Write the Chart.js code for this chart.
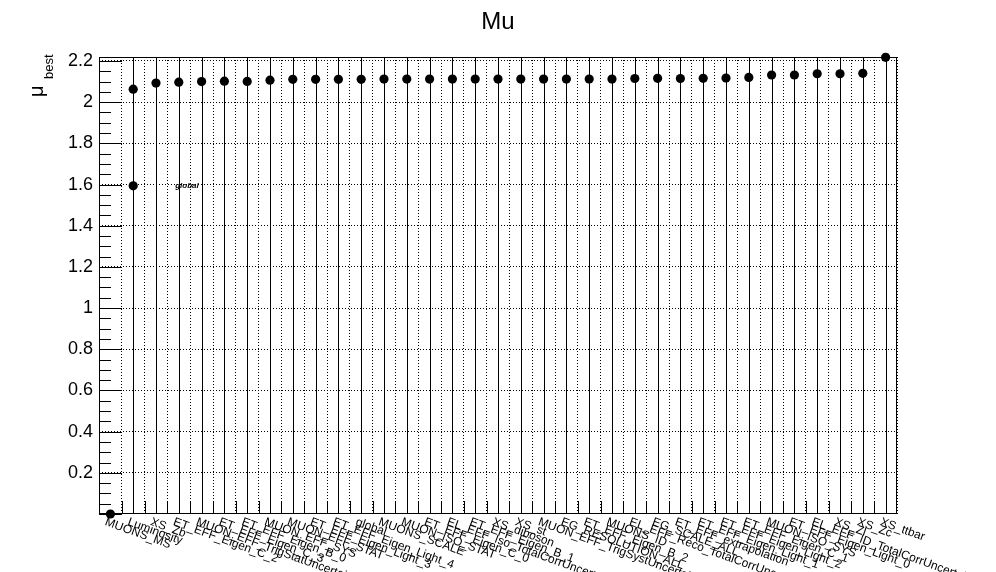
<!DOCTYPE html>
<html><head><meta charset="utf-8">
<script src="https://cdn.jsdelivr.net/npm/chart.js@4.4.1/dist/chart.umd.min.js"></script>
<style>html,body{margin:0;padding:0;background:#fff;}</style>
</head><body>
<canvas id="c" width="996" height="572"></canvas>
<script>
// ---- data ----
const categories = [
  'MUONS_MS','Luminosity','XS_Zb','ET_EFF_Eigen_C_2','MUON_EFF_TrigStatUncertainty',
  'ET_EFF_Eigen_C_3','ET_EFF_Eigen_B_0','MUON_EFF_SYS','MUON_EFF_STAT','ET_EFF_Eigen_Light_3',
  'ET_EFF_Eigen_Light_4','global','MUONS_SCALE','MUON_ISO_STAT','ET_EFF_Eigen_C_0',
  'EL_EFF_Iso_TotalCorrUncertainty','ET_EFF_Eigen_B_1','XS_diboson','XS_st','MUON_EFF_TrigSystUncertainty',
  'EG_RESOLUTION_ALL','ET_EFF_Eigen_B_2','MUONS_ID','EL_EFF_Reco_TotalCorrUncertainty','EG_SCALE_ALL',
  'ET_EFF_extrapolation','ET_EFF_Eigen_Light_1','ET_EFF_Eigen_Light_2','ET_EFF_Eigen_C_1','MUON_ISO_SYS',
  'ET_EFF_Eigen_Light_0','EL_EFF_ID_TotalCorrUncertainty','XS_Zl','XS_Zc','XS_ttbar'
];
const muBest = [
  0.000, 2.063, 2.093, 2.097, 2.100,
  2.102, 2.101, 2.107, 2.111, 2.111,
  2.111, 2.111, 2.112, 2.112, 2.112,
  2.112, 2.112, 2.112, 2.112, 2.112,
  2.112, 2.112, 2.112, 2.115, 2.116,
  2.115, 2.116, 2.117, 2.120, 2.132,
  2.132, 2.138, 2.138, 2.140, 2.218
];
const muErr = [
  0.0, 2.5, 2.5, 2.5, 2.5,
  2.5, 2.5, 2.5, 2.5, 2.5,
  2.5, 2.5, 2.5, 2.5, 2.5,
  2.5, 2.5, 2.5, 2.5, 2.5,
  2.5, 2.5, 2.5, 2.5, 2.5,
  2.5, 2.5, 2.5, 2.5, 2.5,
  2.5, 2.5, 2.5, 2.5, 2.5
];
const globalIndex = 1;
const globalMu = 1.594;
const globalLabel = 'global';
const yTicks = [0.2, 0.4, 0.6, 0.8, 1.0, 1.2, 1.4, 1.6, 1.8, 2.0, 2.2];
const yTickLabels = ['0.2','0.4','0.6','0.8','1','1.2','1.4','1.6','1.8','2','2.2'];
const titleText = 'Mu';

const FONT = "'Liberation Sans', Arial, Helvetica, sans-serif";

const rootPlugin = {
  id: 'rootStyle',
  beforeDatasetsDraw(chart) {
    const {ctx, chartArea: a, scales: {x, y}} = chart;
    ctx.save();
    ctx.beginPath();
    ctx.rect(a.left, a.top, a.right - a.left, a.bottom - a.top);
    ctx.clip();
    ctx.strokeStyle = '#000';
    ctx.lineWidth = 1;
    muBest.forEach((v, i) => {
      if (!muErr[i]) return;
      const px = Math.round(x.getPixelForValue(i)) + 0.5;
      ctx.beginPath();
      ctx.moveTo(px, y.getPixelForValue(v - muErr[i]));
      ctx.lineTo(px, y.getPixelForValue(v + muErr[i]));
      ctx.stroke();
    });
    ctx.restore();
  },
  afterDraw(chart) {
    const {ctx, chartArea: a, scales: {x, y}} = chart;
    ctx.save();
    ctx.strokeStyle = '#000';
    ctx.fillStyle = '#000';
    ctx.lineWidth = 1;
    // frame
    ctx.strokeRect(a.left + 0.5, a.top + 0.5, a.right - a.left - 1, a.bottom - a.top - 1);
    // y ticks (major + minor), inside
    ctx.beginPath();
    for (let k = 0; k <= 44; k++) {
      const v = k * 0.05;
      const py = Math.round(y.getPixelForValue(v)) + 0.5;
      const len = (k % 4 === 0) ? 23 : 12;
      ctx.moveTo(a.left, py);
      ctx.lineTo(a.left + len, py);
    }
    // x ticks at bin boundaries
    for (let i = 1; i < categories.length; i++) {
      const px = Math.round(x.getPixelForValue(i - 0.5)) + 0.5;
      ctx.moveTo(px, a.bottom);
      ctx.lineTo(px, a.bottom - 13);
    }
    ctx.stroke();
    // x labels rotated
    ctx.font = '12px ' + FONT;
    ctx.textAlign = 'left';
    ctx.textBaseline = 'top';
    categories.forEach((lab, i) => {
      const px = x.getPixelForValue(i);
      ctx.save();
      ctx.translate(px - 3, a.bottom + 2);
      ctx.rotate(20 * Math.PI / 180);
      ctx.fillText(lab, 0, 0);
      ctx.restore();
    });
    // global annotation
    ctx.font = 'italic bold 8px ' + FONT;
    ctx.textBaseline = 'middle';
    ctx.fillText(globalLabel, x.getPixelForValue(globalIndex) + 42, y.getPixelForValue(globalMu));
    // title
    ctx.font = '24px ' + FONT;
    ctx.textAlign = 'center';
    ctx.textBaseline = 'middle';
    ctx.fillText(titleText, 498, 22);
    // y axis title mu_best
    ctx.save();
    ctx.translate(43, 97);
    ctx.rotate(-Math.PI / 2);
    ctx.textAlign = 'left';
    ctx.textBaseline = 'alphabetic';
    ctx.font = '20px ' + FONT;
    ctx.fillText('\u03BC', 0, 0);
    ctx.font = '13px ' + FONT;
    ctx.fillText('best', 18, 9.5);
    ctx.restore();
    ctx.restore();
  }
};

new Chart(document.getElementById('c'), {
  type: 'line',
  data: {
    labels: categories,
    datasets: [
      {
        data: muBest,
        showLine: false,
        pointRadius: 4.6,
        pointHoverRadius: 4.6,
        pointBackgroundColor: '#000',
        pointBorderColor: '#000',
        pointBorderWidth: 0,
        clip: false
      },
      {
        data: categories.map((c, i) => i === globalIndex ? globalMu : null),
        showLine: false,
        pointRadius: 4.6,
        pointBackgroundColor: '#000',
        pointBorderColor: '#000',
        pointBorderWidth: 0,
        clip: false
      }
    ]
  },
  options: {
    responsive: false,
    animation: false,
    devicePixelRatio: 1,
    layout: { padding: { top: 57, right: 99, left: 0, bottom: 0 }, autoPadding: false },
    plugins: { legend: { display: false }, title: { display: false }, tooltip: { enabled: false } },
    scales: {
      x: {
        type: 'category',
        offset: true,
        grid: { offset: true, color: '#000', lineWidth: 1, drawTicks: false },
        border: { display: false, dash: [1, 2] },
        ticks: { display: false },
        afterFit(s) { s.height = 58; }
      },
      y: {
        min: 0,
        max: 2.2194,
        afterBuildTicks(s) { s.ticks = yTicks.map(v => ({ value: v })); },
        grid: { color: '#000', lineWidth: 1, drawTicks: false },
        border: { display: false, dash: [1, 2] },
        ticks: {
          color: '#000',
          padding: 6,
          font: { family: FONT, size: 18 },
          callback: (v) => { const i = yTicks.findIndex(t => Math.abs(t - v) < 1e-6); return i >= 0 ? yTickLabels[i] : ''; }
        },
        afterFit(s) { s.width = 99; }
      }
    }
  },
  plugins: [rootPlugin]
});
</script>
</body></html>
